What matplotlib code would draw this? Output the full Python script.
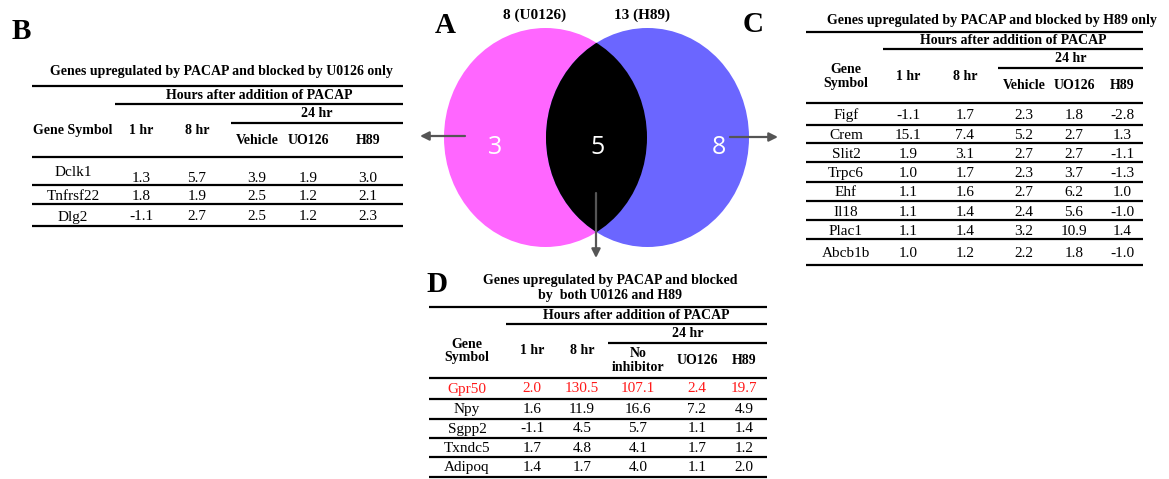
import matplotlib.pyplot as plt
from matplotlib.patches import Ellipse

# Venn counts: U0126 only, both, H89 only
venn_counts = [3, 5, 8]
venn_sets = ["8 (U0126)", "13 (H89)"]

span_label = "Hours after addition of PACAP"
sub_label = "24 hr"

b_title = "Genes upregulated by PACAP and blocked by U0126 only"
b_head = ["Gene Symbol", "1 hr", "8 hr", "Vehicle", "UO126", "H89"]
b_genes = ["Dclk1", "Tnfrsf22", "Dlg2"]
b_values = [[1.3, 5.7, 3.9, 1.9, 3.0],
            [1.8, 1.9, 2.5, 1.2, 2.1],
            [-1.1, 2.7, 2.5, 1.2, 2.3]]

c_title = "Genes upregulated by PACAP and blocked by H89 only"
c_head = ["Gene\nSymbol", "1 hr", "8 hr", "Vehicle", "UO126", "H89"]
c_genes = ["Figf", "Crem", "Slit2", "Trpc6", "Ehf", "Il18", "Plac1", "Abcb1b"]
c_values = [[-1.1, 1.7, 2.3, 1.8, -2.8],
            [15.1, 7.4, 5.2, 2.7, 1.3],
            [1.9, 3.1, 2.7, 2.7, -1.1],
            [1.0, 1.7, 2.3, 3.7, -1.3],
            [1.1, 1.6, 2.7, 6.2, 1.0],
            [1.1, 1.4, 2.4, 5.6, -1.0],
            [1.1, 1.4, 3.2, 10.9, 1.4],
            [1.0, 1.2, 2.2, 1.8, -1.0]]

d_title = "Genes upregulated by PACAP and blocked\nby  both U0126 and H89"
d_head = ["Gene\nSymbol", "1 hr", "8 hr", "No\ninhibitor", "UO126", "H89"]
d_genes = ["Gpr50", "Npy", "Sgpp2", "Txndc5", "Adipoq"]
d_values = [[2.0, 130.5, 107.1, 2.4, 19.7],
            [1.6, 11.9, 16.6, 7.2, 4.9],
            [-1.1, 4.5, 5.7, 1.1, 1.4],
            [1.7, 4.8, 4.1, 1.7, 1.2],
            [1.4, 1.7, 4.0, 1.1, 2.0]]
d_red = ["Gpr50"]

SERIF = "Liberation Serif"
LW = 1.6
HEAD_FS = 10
DATA_FS = 11

fig = plt.figure(figsize=(11.69, 4.79), dpi=100)
ax = fig.add_axes([0, 0, 1, 1])
ax.set_xlim(0, 1169)
ax.set_ylim(479, 0)
ax.axis("off")


def hline(y, xa, xb):
    ax.plot([xa, xb], [y, y], color="black", lw=LW, solid_capstyle="butt")


def draw_table(title, head, genes, values, lay, red=()):
    x0, x1 = lay["x"]
    xs = lay["cols"]
    ax.text(lay["title"][0], lay["title"][1], title, family=SERIF, fontweight="bold",
            fontsize=HEAD_FS, ha="center", va="center", linespacing=1.15)
    hline(lay["top"], x0, x1)
    hline(lay["span_y"], lay["span_x"], x1)
    hline(lay["sub_y"], lay["sub_x"], x1)
    ax.text((lay["span_x"] + x1) / 2, (lay["top"] + lay["span_y"]) / 2, span_label,
            family=SERIF, fontweight="bold", fontsize=HEAD_FS, ha="center", va="center")
    ax.text((lay["sub_x"] + x1) / 2, (lay["span_y"] + lay["sub_y"]) / 2, sub_label,
            family=SERIF, fontweight="bold", fontsize=HEAD_FS, ha="center", va="center")
    hdr = lay["lines"][0]
    y_mid = (lay["span_y"] + hdr) / 2
    y_low = (lay["sub_y"] + hdr) / 2
    for i, (x, h) in enumerate(zip(xs, head)):
        y = y_mid if i < 3 else y_low
        ax.text(x, y, h, family=SERIF, fontweight="bold", fontsize=HEAD_FS,
                ha="center", va="center", linespacing=1.1)
    for y in lay["lines"]:
        hline(y, x0, x1)
    for r, g in enumerate(genes):
        y = (lay["lines"][r] + lay["lines"][r + 1]) / 2 + lay["dy"]
        col = "#ff1a1a" if g in red else "black"
        ax.text(xs[0], y, g, family=SERIF, fontsize=DATA_FS, ha="center", va="center",
                color=col)
        for x, v in zip(xs[1:], values[r]):
            ax.text(x, y + lay.get("vdy", [0] * len(genes))[r], f"{v:.1f}", family=SERIF,
                    fontsize=DATA_FS, ha="center", va="center", color=col)


# Venn diagram
left = Ellipse((545.5, 137.5), 203, 219, facecolor="#ff66ff", edgecolor="none")
right = Ellipse((647.5, 137.5), 203, 219, facecolor="#6b66ff", edgecolor="none")
lens = Ellipse((647.5, 137.5), 203, 219, facecolor="black", edgecolor="none")
ax.add_patch(left)
ax.add_patch(right)
ax.add_patch(lens)
lens.set_clip_path(left)

for x, n in zip([495, 597, 719], venn_counts):
    ax.text(x, 147, str(n), family="Open Sans", fontsize=18, color="white",
            ha="center", va="center")
ax.text(535, 15, venn_sets[0], family=SERIF, fontweight="bold", fontsize=11,
        ha="center", va="center")
ax.text(642, 15, venn_sets[1], family=SERIF, fontweight="bold", fontsize=11,
        ha="center", va="center")

arrow = dict(arrowstyle="-|>", color="#555555", lw=1.6, mutation_scale=13,
             shrinkA=0, shrinkB=0)
ax.annotate("", xy=(420, 136), xytext=(465, 136), arrowprops=arrow)
ax.annotate("", xy=(778, 137), xytext=(730, 137), arrowprops=arrow)
ax.annotate("", xy=(596, 258), xytext=(596, 193), arrowprops=arrow)

# panel letters
for lab, x, y in [("A", 445, 25), ("B", 21, 31), ("C", 753, 24), ("D", 437, 284)]:
    ax.text(x, y, lab, family=SERIF, fontweight="bold", fontsize=21,
            ha="center", va="center")

draw_table(b_title, b_head, b_genes, b_values,
           dict(x=(32, 403), cols=[73, 141, 197, 257, 308, 368], title=(221, 71),
                top=86, span_x=115, span_y=104, sub_x=231, sub_y=123,
                lines=[157, 185, 204, 226], dy=2, vdy=[5, 0, 0]))
draw_table(c_title, c_head, c_genes, c_values,
           dict(x=(806, 1143), cols=[846, 908, 965, 1024, 1074, 1122], title=(992, 20),
                top=32, span_x=883, span_y=49, sub_x=998, sub_y=68,
                lines=[103, 125, 143, 162, 182, 201, 220, 239, 265], dy=1.5))
draw_table(d_title, d_head, d_genes, d_values,
           dict(x=(429, 767), cols=[467, 532, 582, 638, 697, 744], title=(610, 288),
                top=307, span_x=506, span_y=324, sub_x=608, sub_y=343,
                lines=[378, 399, 419, 438, 457, 477], dy=0.5),
           red=d_red)

fig.savefig("out.png", dpi=100)
